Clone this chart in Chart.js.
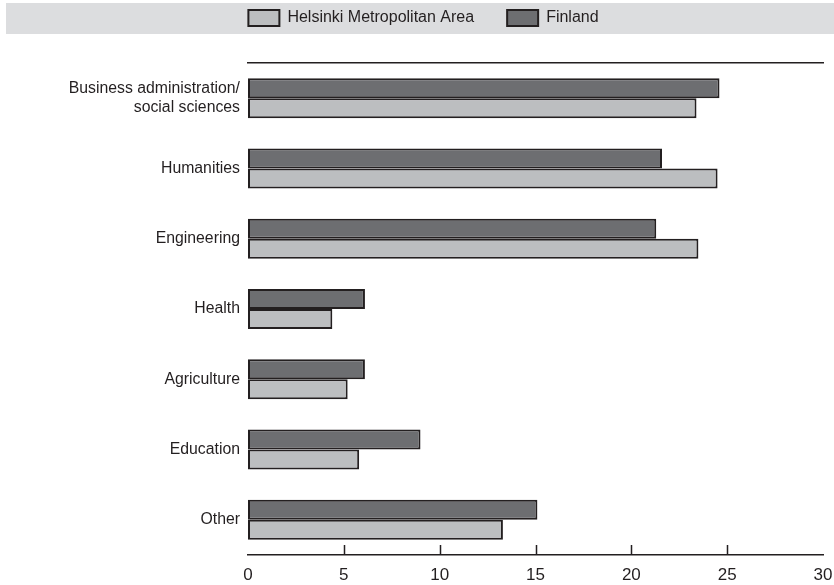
<!DOCTYPE html>
<html>
<head>
<meta charset="utf-8">
<script src="https://cdn.jsdelivr.net/npm/chart.js@4"></script>
<style>
    html, body { margin: 0; padding: 0; background: #fff; }
</style>
</head>
<body>
<canvas id="myChart" width="834" height="585"></canvas>
<script>
        // ======================================================================================================================
        var fields = [["Business administration/", "social sciences"], "Humanities", "Engineering", "Health", "Agriculture", "Education", "Other"]
        var finland = [24.6, 21.6, 21.3, 6.1, 6.1, 9.0, 15.1]
        var helsinki = [23.4, 24.5, 23.5, 4.4, 5.2, 5.8, 13.3]
        var xTicks = [0, 5, 10, 15, 20, 25, 30]

        var ink = '#231f20'

        // grey strip behind the legend
        var legendBand = {
            id: 'legendBand',
            beforeDraw: function (chart) {
                var ctx = chart.ctx
                ctx.save()
                ctx.fillStyle = '#dcdddf'
                ctx.fillRect(6, 3, chart.width - 6, 31)
                ctx.restore()
            }
        }

        // short tick marks standing up from the bottom axis line
        var upTicks = {
            id: 'upTicks',
            afterDraw: function (chart) {
                var ctx = chart.ctx
                var x = chart.scales.x
                var y = chart.chartArea.bottom
                ctx.save()
                ctx.strokeStyle = ink
                ctx.lineWidth = 1.5
                ctx.beginPath()
                xTicks.forEach(function (v) {
                    if (v == xTicks[0] || v == xTicks[xTicks.length - 1]) return
                    var px = Math.round(x.getPixelForValue(v)) + 0.5
                    ctx.moveTo(px, y)
                    ctx.lineTo(px, y - 10)
                })
                ctx.stroke()
                ctx.restore()
            }
        }

        function noSidePadding(s) {
            s.paddingLeft = 0
            s.paddingRight = 0
        }

        var ctx = document.getElementById('myChart').getContext('2d')
        var chart = new Chart(ctx, {
            type: 'bar',
            data: {
                labels: fields,
                datasets: [{
                    label: 'Finland',
                    data: finland,
                    backgroundColor: '#6d6e71',
                    borderColor: ink,
                    borderWidth: 2,
                    borderSkipped: false,
                    categoryPercentage: 0.569,
                    barPercentage: 1
                },
                {
                    label: 'Helsinki Metropolitan Area',
                    data: helsinki,
                    backgroundColor: '#bcbec0',
                    borderColor: ink,
                    borderWidth: 2,
                    borderSkipped: false,
                    categoryPercentage: 0.569,
                    barPercentage: 1
                }]
            },
            options: {
                indexAxis: 'y',
                responsive: false,
                animation: false,
                layout: { padding: { top: -23, left: 24, right: 11, bottom: 0 } },
                plugins: {
                    tooltip: { enabled: false },
                    legend: {
                        position: 'top',
                        reverse: true,
                        labels: {
                            boxWidth: 31,
                            boxHeight: 16,
                            padding: 33,
                            color: ink,
                            font: { family: "'Liberation Sans', Arial, sans-serif", size: 16 }
                        }
                    }
                },
                scales: {
                    x: {
                        type: 'linear',
                        position: 'bottom',
                        min: 0,
                        max: 30,
                        afterBuildTicks: function (s) { s.ticks = xTicks.map(function (v) { return { value: v } }) },
                        afterFit: function (s) { s.height = 30; noSidePadding(s) },
                        grid: { display: false, drawTicks: false },
                        border: { display: true, color: ink, width: 1.5 },
                        ticks: {
                            padding: 10,
                            color: ink,
                            font: { family: "'Liberation Sans', Arial, sans-serif", size: 17 }
                        }
                    },
                    x2: {
                        type: 'linear',
                        position: 'top',
                        min: 0,
                        max: 30,
                        afterFit: function (s) { s.height = 27; noSidePadding(s) },
                        grid: { display: false, drawTicks: false },
                        border: { display: true, color: ink, width: 1.5 },
                        ticks: { display: false }
                    },
                    y: {
                        afterFit: function (s) { s.width = 224 },
                        grid: { display: false, drawTicks: false },
                        border: { display: false },
                        ticks: {
                            padding: 8,
                            color: ink,
                            font: { family: "'Liberation Sans', Arial, sans-serif", size: 15.8, lineHeight: 1.14 }
                        }
                    }
                }
            },
            plugins: [legendBand, upTicks]
        })
</script>
</body>
</html>
